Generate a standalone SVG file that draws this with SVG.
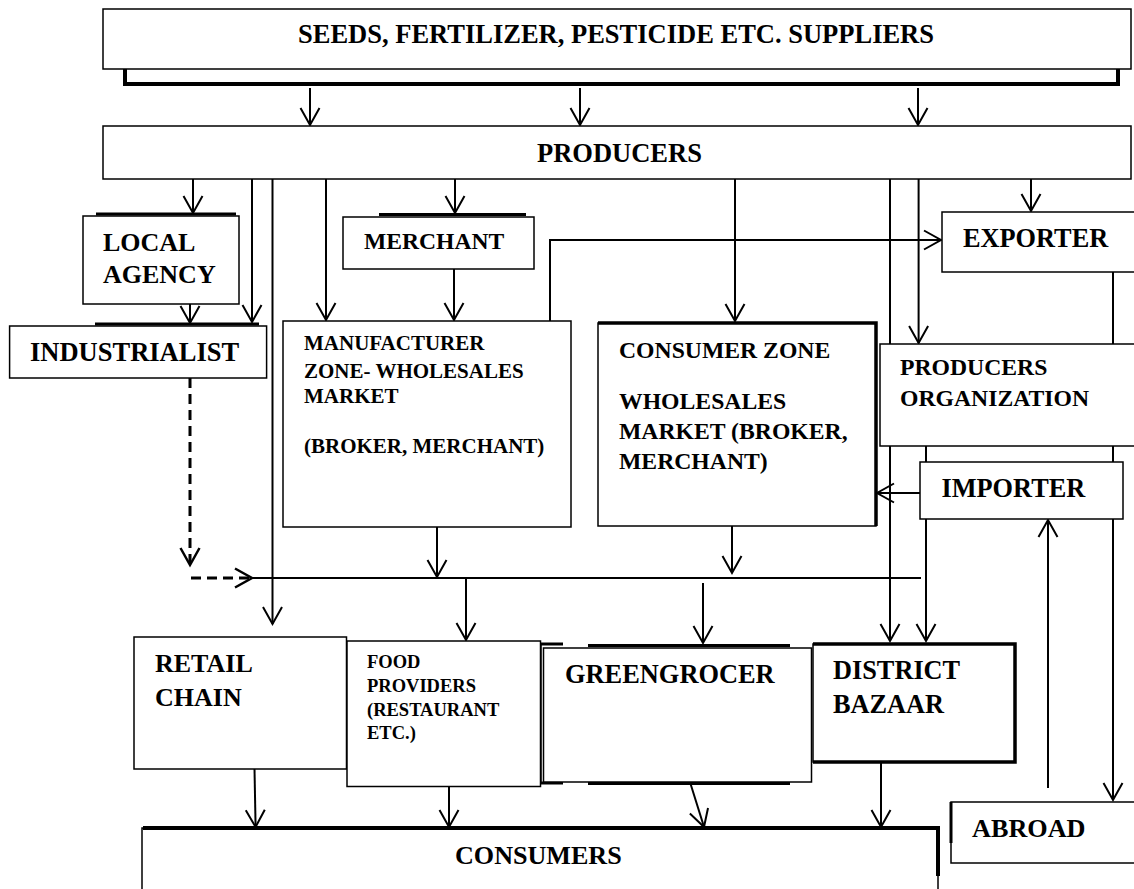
<svg xmlns="http://www.w3.org/2000/svg" width="1134" height="889" viewBox="0 0 1134 889">
<style>
.b{fill:#fff;stroke:#000;stroke-width:1.5}
.t{font-family:"Liberation Serif","Times New Roman",serif;font-weight:bold;fill:#000}
.c{fill:none;stroke:#000;stroke-width:2}
.d{fill:none;stroke:#000;stroke-width:3;stroke-dasharray:10 6}
.k{fill:none;stroke:#000;stroke-width:4}
</style>
<defs>
<marker id="a" markerUnits="userSpaceOnUse" viewBox="-19 -11 21 22" markerWidth="21" markerHeight="22" refX="0" refY="0" orient="auto" overflow="visible">
<path d="M-17,-9.5 L0,0 L-17,9.5" fill="none" stroke="#000" stroke-width="2"/>
</marker>
<marker id="ad" markerUnits="userSpaceOnUse" viewBox="-19 -11 21 22" markerWidth="21" markerHeight="22" refX="0" refY="0" orient="auto" overflow="visible">
<path d="M-17,-9.5 L0,0 L-17,9.5" fill="none" stroke="#000" stroke-width="2.5"/>
</marker>
</defs>
<rect width="1134" height="889" fill="#fff"/>
<g id="connectors">
<path class="c" d="M310,88 V125" marker-end="url(#a)"/>
<path class="c" d="M580,88 V125" marker-end="url(#a)"/>
<path class="c" d="M918,88 V125" marker-end="url(#a)"/>
<path class="c" d="M193,179 V213" marker-end="url(#a)"/>
<path class="c" d="M252,179 V322" marker-end="url(#a)"/>
<path class="c" d="M272.5,179 V624" marker-end="url(#a)"/>
<path class="c" d="M326,179 V320" marker-end="url(#a)"/>
<path class="c" d="M455,179 V213" marker-end="url(#a)"/>
<path class="c" d="M735,179 V321" marker-end="url(#a)"/>
<path class="c" d="M890,179 V641" marker-end="url(#a)"/>
<path class="c" d="M918.6,179 V343" marker-end="url(#a)"/>
<path class="c" d="M1031,179 V211" marker-end="url(#a)"/>
<path class="c" d="M454,269 V320" marker-end="url(#a)"/>
<path class="c" d="M190,304 V323" marker-end="url(#a)"/>
<path class="c" d="M550,321 V240 H941" marker-end="url(#a)"/>
<path class="c" d="M920,493 H877" marker-end="url(#a)"/>
<path class="c" d="M926,446 V641" marker-end="url(#a)"/>
<path class="c" d="M1113,272 V800" marker-end="url(#a)"/>
<path class="c" d="M1048,788 V520" marker-end="url(#a)"/>
<path class="c" d="M437,527 V577" marker-end="url(#a)"/>
<path class="c" d="M732,526 V573" marker-end="url(#a)"/>
<path class="c" d="M253,578 H921"/>
<path class="c" d="M466,578 V640" marker-end="url(#a)"/>
<path class="c" d="M703,583 V643" marker-end="url(#a)"/>
<path class="d" d="M190,378 V565" marker-end="url(#ad)"/>
<path class="d" d="M191,578 H252" marker-end="url(#ad)"/>
<path class="c" d="M254.5,769 L255.6,827" marker-end="url(#a)"/>
<path class="c" d="M449,787 V827" marker-end="url(#a)"/>
<path class="c" d="M690,782 L704,827" marker-end="url(#a)"/>
<path class="c" d="M881,763 V827" marker-end="url(#a)"/>
</g>
<g id="suppliers">
<path class="k" d="M125,69 V84 H1118 V69"/>
<rect class="b" x="103" y="9" width="1028" height="60"/>
<text class="t" x="298" y="43" font-size="26.5">SEEDS, FERTILIZER, PESTICIDE ETC. SUPPLIERS</text>
</g>
<g id="producers">
<rect class="b" x="103" y="126" width="1028" height="53"/>
<text class="t" x="537" y="162" font-size="26.5">PRODUCERS</text>
</g>
<g id="local-agency">
<line x1="96" y1="214" x2="236" y2="214" stroke="#000" stroke-width="3"/>
<rect class="b" x="83" y="216" width="156" height="88"/>
<text class="t" x="103" y="251" font-size="26">LOCAL</text>
<text class="t" x="103" y="283" font-size="26">AGENCY</text>
</g>
<g id="industrialist">
<line x1="95" y1="324" x2="259" y2="324" stroke="#000" stroke-width="3"/>
<rect class="b" x="9.6" y="326" width="257" height="52"/>
<text class="t" x="30" y="361" font-size="26.5">INDUSTRIALIST</text>
</g>
<g id="merchant">
<line x1="379" y1="214.5" x2="526" y2="214.5" stroke="#000" stroke-width="3"/>
<rect class="b" x="343" y="217" width="191" height="52"/>
<text class="t" x="364" y="249" font-size="23.6">MERCHANT</text>
</g>
<g id="manufacturer-zone">
<rect class="b" x="283" y="321" width="288" height="206"/>
<text class="t" x="304" y="350" font-size="21">MANUFACTURER</text>
<text class="t" x="304" y="377.7" font-size="21">ZONE- WHOLESALES</text>
<text class="t" x="304" y="403.3" font-size="21">MARKET</text>
<text class="t" x="304" y="453.3" font-size="21">(BROKER, MERCHANT)</text>
</g>
<g id="consumer-zone">
<rect class="b" x="598" y="323" width="278" height="203"/>
<path d="M598,323 H876 V526" fill="none" stroke="#000" stroke-width="3.5"/>
<text class="t" x="619" y="358" font-size="23.7">CONSUMER ZONE</text>
<text class="t" x="619" y="409" font-size="23.7">WHOLESALES</text>
<text class="t" x="619" y="439" font-size="23.7">MARKET (BROKER,</text>
<text class="t" x="619" y="469" font-size="23.7">MERCHANT)</text>
</g>
<g id="exporter">
<rect class="b" x="942" y="212" width="200" height="60"/>
<text class="t" x="963" y="247" font-size="26.3">EXPORTER</text>
</g>
<g id="producers-organization">
<rect class="b" x="880" y="344" width="262" height="102"/>
<text class="t" x="900" y="375" font-size="23.7">PRODUCERS</text>
<text class="t" x="900" y="406" font-size="23.7">ORGANIZATION</text>
</g>
<g id="importer">
<rect class="b" x="920" y="462" width="203" height="57"/>
<text class="t" x="941.5" y="497" font-size="26.3">IMPORTER</text>
</g>
<g id="retail-chain">
<rect class="b" x="134" y="637" width="212.5" height="132"/>
<text class="t" x="155" y="672" font-size="26">RETAIL</text>
<text class="t" x="155" y="706" font-size="26">CHAIN</text>
</g>
<g id="food-providers">
<rect class="b" x="347" y="641" width="193.5" height="145.5"/>
<text class="t" x="367" y="668" font-size="18.5">FOOD</text>
<text class="t" x="367" y="692" font-size="18.5">PROVIDERS</text>
<text class="t" x="367" y="716" font-size="18.5">(RESTAURANT</text>
<text class="t" x="367" y="738.5" font-size="18.5">ETC.)</text>
</g>
<g id="greengrocer">
<path d="M541,644 H563 M588,645.5 H790 M541,783 H563 M588,783.5 H790" fill="none" stroke="#000" stroke-width="3"/>
<rect class="b" x="543.5" y="648" width="268" height="134"/>
<line x1="541" y1="644" x2="541" y2="783" stroke="#000" stroke-width="1.5"/>
<text class="t" x="565" y="683" font-size="26.4">GREENGROCER</text>
</g>
<g id="district-bazaar">
<rect class="b" x="813" y="644" width="202" height="118"/>
<path d="M813,644 H1015 V762 H813" fill="none" stroke="#000" stroke-width="3.5"/>
<text class="t" x="833" y="679" font-size="26.3">DISTRICT</text>
<text class="t" x="833" y="713" font-size="26.3">BAZAAR</text>
</g>
<g id="consumers">
<rect class="b" x="142" y="828" width="796" height="80"/>
<path d="M143,828 H938 V876" fill="none" stroke="#000" stroke-width="4"/>
<text class="t" x="455" y="864" font-size="26.1">CONSUMERS</text>
</g>
<g id="abroad">
<rect class="b" x="951" y="802" width="200" height="61"/>
<line x1="951" y1="802" x2="951" y2="843" stroke="#000" stroke-width="3"/>
<text class="t" x="972" y="837" font-size="26.2">ABROAD</text>
</g>
</svg>
